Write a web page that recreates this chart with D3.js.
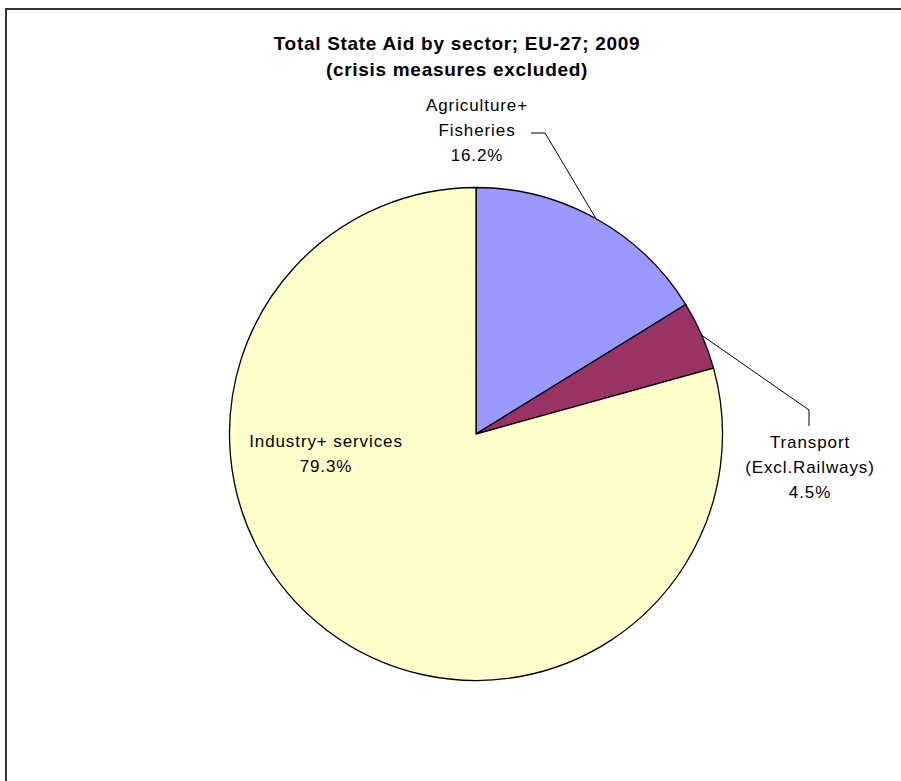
<!DOCTYPE html>
<html>
<head>
<meta charset="utf-8">
<script src="https://cdn.jsdelivr.net/npm/d3@7"></script>
<style>
  html, body { margin: 0; padding: 0; background: #fff; }
  svg { display: block; }
  text { font-family: "Liberation Sans", Arial, sans-serif; fill: #000; }
</style>
</head>
<body>
<svg id="chart" width="901" height="781"></svg>
<script>
// Sector shares of total state aid (percent)
const categories = ["Agriculture+ Fisheries", "Transport (Excl.Railways)", "Industry+ services"];
const values = [16.2, 4.5, 79.3];
const labelLines = [
  ["Agriculture+", "Fisheries", "16.2%"],
  ["Transport", "(Excl.Railways)", "4.5%"],
  ["Industry+ services", "79.3%"]
];
const colors = ["#9999FF", "#993366", "#FFFFCC"];
const titleLines = ["Total State Aid by sector; EU-27; 2009", "(crisis measures excluded)"];

const W = 901, H = 781;
const cx = 476, cy = 434, R = 246.5;

const svg = d3.select("#chart");

// Chart area frame (open on the right and bottom, as cropped)
svg.append("rect")
  .attr("x", 6).attr("y", 9)
  .attr("width", W + 20).attr("height", H + 20)
  .attr("fill", "#fff")
  .attr("stroke", "#333")
  .attr("stroke-width", 2);

// Title
svg.append("g")
  .selectAll("text")
  .data(titleLines)
  .join("text")
  .attr("x", 457)
  .attr("y", (d, i) => 50 + i * 26)
  .attr("text-anchor", "middle")
  .attr("font-size", 19)
  .attr("font-weight", "bold")
  .attr("letter-spacing", 0.7)
  .text(d => d);

const color = d3.scaleOrdinal().domain(categories).range(colors);

const pie = d3.pie()
  .value(d => d.value)
  .sort(null)
  .startAngle(0)
  .endAngle(2 * Math.PI);

const data = categories.map((c, i) => ({ name: c, value: values[i], lines: labelLines[i] }));
const arcs = pie(data);

const arc = d3.arc().innerRadius(0).outerRadius(R);

const g = svg.append("g").attr("transform", `translate(${cx},${cy})`);

g.selectAll("path")
  .data(arcs)
  .join("path")
  .attr("d", arc)
  .attr("fill", d => color(d.data.name))
  .attr("stroke", "#000")
  .attr("stroke-width", 1.3)
  .attr("stroke-linejoin", "round");

// Point on the rim at the middle of a slice
function rimPoint(d) {
  const a = (d.startAngle + d.endAngle) / 2;
  return [R * Math.sin(a), -R * Math.cos(a)];
}

// Label placement relative to the pie centre: [x, first baseline]
const labelPos = [
  { x: 1, y: -323, leader: p => [[55, -301], [69, -301], p] },
  { x: 334, y: 14, leader: p => [p, [333, -24], [333, -8]] },
  { x: -150, y: 13, leader: null }
];

const lg = g.append("g");
arcs.forEach((d, i) => {
  const pos = labelPos[i];
  const t = lg.append("text")
    .attr("text-anchor", "middle")
    .attr("font-size", 17)
    .attr("letter-spacing", 0.9);
  d.data.lines.forEach((line, j) => {
    t.append("tspan")
      .attr("x", pos.x)
      .attr("y", pos.y + j * 25)
      .text(line);
  });
  if (pos.leader) {
    lg.append("path")
      .attr("d", d3.line()(pos.leader(rimPoint(d))))
      .attr("fill", "none")
      .attr("stroke", "#000")
      .attr("stroke-width", 1);
  }
});
</script>
</body>
</html>
